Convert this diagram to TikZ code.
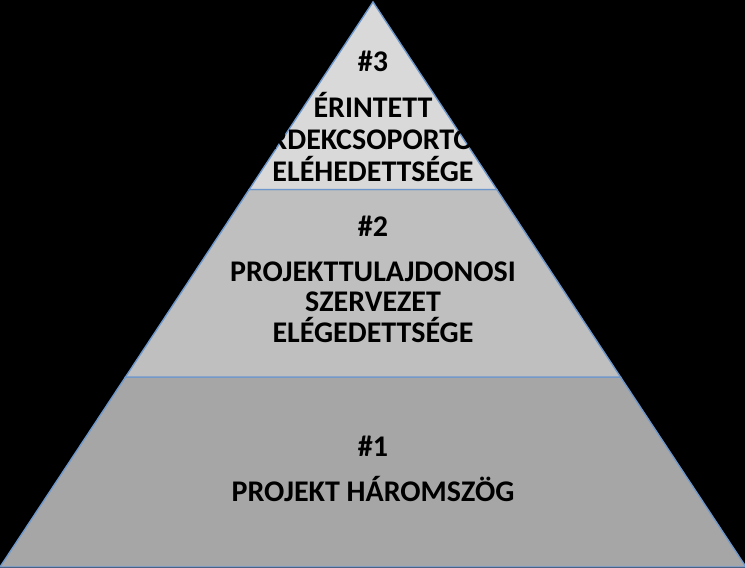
\documentclass[tikz,border=0pt]{standalone}
\usepackage{fontspec}
\setmainfont{Carlito}
\begin{document}
\begin{tikzpicture}[x=1pt,y=1pt,
  layer/.style={draw=edgeblue, line width=1.4pt, line join=miter},
  lbl/.style={anchor=base, inner sep=0pt, font=\fontsize{30}{33}\selectfont\bfseries, text=black}]
\definecolor{edgeblue}{HTML}{6E98CC}
\definecolor{topgray}{HTML}{D9D9D9}
\definecolor{midgray}{HTML}{BFBFBF}
\definecolor{botgray}{HTML}{A6A6A6}
\fill[black] (0,0) rectangle (745,568);
\useasboundingbox (0,0) rectangle (745,568);
% corners
\coordinate (apex) at (373,566);
\coordinate (l1) at (249.2,378.5);
\coordinate (r1) at (496.8,378.5);
\coordinate (l2) at (125.5,191);
\coordinate (r2) at (620.5,191);
\coordinate (l3) at (0,1);
\coordinate (r3) at (746,1);
% layers
\filldraw[layer, fill=botgray] (l2) -- (r2) -- (r3) -- (l3) -- cycle;
\filldraw[layer, fill=midgray] (l1) -- (r1) -- (r2) -- (l2) -- cycle;
\filldraw[layer, fill=topgray] (apex) -- (r1) -- (l1) -- cycle;
% texts
\node[lbl] (n3) at (373,496) {\#3};
\node[lbl] (t3a) at (373,450) {ÉRINTETT};
\node[lbl] (t3b) at (373,418) {ÉRDEKCSOPORTOK};
\node[lbl] (t3c) at (373,386.5) {ELÉHEDETTSÉGE};
\node[lbl] (n2) at (373,331) {\#2};
\node[lbl] (t2a) at (373,286) {PROJEKTTULAJDONOSI};
\node[lbl] (t2b) at (373,256) {SZERVEZET};
\node[lbl] (t2c) at (373,225.5) {ELÉGEDETTSÉGE};
\node[lbl] (n1) at (373,111) {\#1};
\node[lbl] (t1a) at (373,66) {PROJEKT HÁROMSZÖG};
\end{tikzpicture}
\end{document}
